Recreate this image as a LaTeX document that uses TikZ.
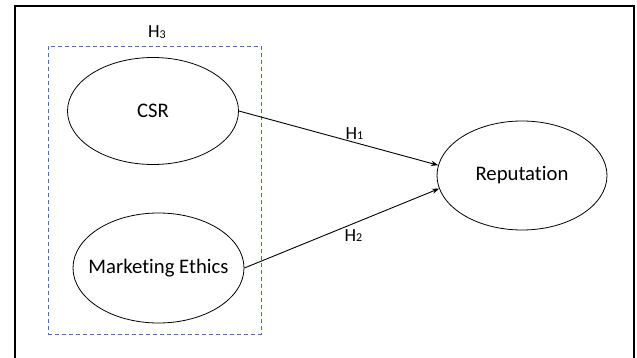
\documentclass[tikz,border=0pt]{standalone}
\usepackage{fontspec}
\setmainfont{Carlito}[Ligatures=NoCommon]
\usetikzlibrary{arrows.meta,positioning,shapes.geometric}
\definecolor{grpblue}{RGB}{78,110,180}
\newcommand{\hyp}[1]{H{\fontsize{12}{12}\selectfont\raisebox{-0.5pt}{#1}}}

\begin{document}
\begin{tikzpicture}[
    x=1pt, y=-1pt,
    every node/.style={font=\fontsize{20.7}{24}\selectfont},
    latent/.style={ellipse, draw, line width=0.8pt, minimum width=171pt, minimum height=107pt, inner sep=-18pt},
    group/.style={draw=grpblue, dashed, dash pattern=on 4pt off 3pt, line width=0.9pt, minimum width=213pt, minimum height=288pt, inner sep=0pt},
    hlabel/.style={font=\fontsize{18.5}{22}\selectfont},
    >=Stealth
]
    \useasboundingbox (0,0) rectangle (637,358);
    \draw[line width=1.8pt] (15,6) rectangle (634,380);

    \node[group] (grp) at (154.5,190) {};
    \node[hlabel] (h3) at (157,32) {\hyp{3}};

    \node[latent] (csr) at (153,111) {CSR};
    \node[latent, minimum height=110pt] (me) at (158.5,268) {Marketing Ethics};
    \node[latent, minimum width=170pt, minimum height=109pt] (rep) at (522,175.5) {Reputation};

    \draw[->, line width=0.9pt] (csr.east) -- node[hlabel, pos=0.58, above=-1pt]{\hyp{1}} (rep.173);
    \draw[->, line width=0.9pt] (me.east) -- node[hlabel, pos=0.56, below=2pt]{\hyp{2}} (rep.189);
\end{tikzpicture}
\end{document}
